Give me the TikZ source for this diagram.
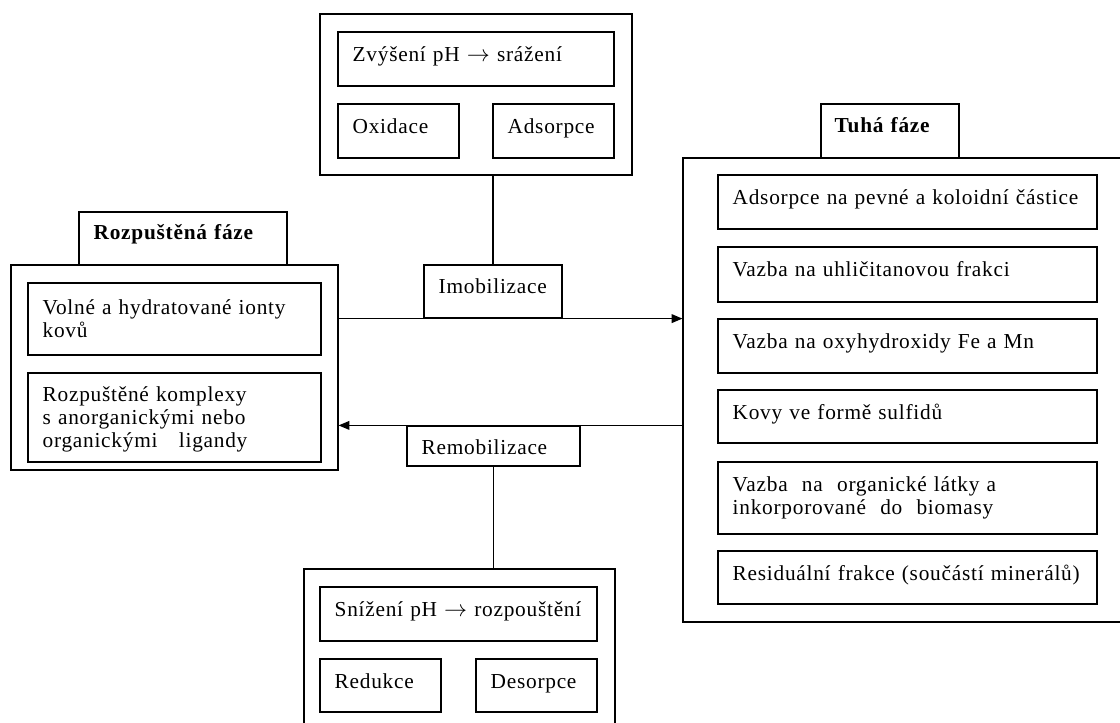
\documentclass[tikz,border=0pt]{standalone}
\usepackage{fontspec}
\setmainfont{Liberation Serif}[LetterSpace=3.5]
\usetikzlibrary{arrows.meta, fit}

\begin{document}
\begin{tikzpicture}[x=0.75pt, y=-0.75pt,
    box/.style={draw, line width=0.9pt, inner sep=0pt},
    txt/.style={anchor=base west, inner sep=0pt, align=left, text width=320pt, font=\fontsize{16}{17.25}\selectfont},
    head/.style={txt, font=\fontsize{16}{17.25}\selectfont\bfseries},
    link/.style={line width=0.9pt},
    pipe/.style={line width=0.9pt, -{Triangle[length=8pt, width=6.5pt]}}]
  \clip (0,0) rectangle (1120,722);

  \node[box, fit={(320,14) (632,175)}] (up) {};
  \node[box, fit={(338,32) (614,86)}] (upph) {};
  \node[box, fit={(338,104) (459,158)}] (oxid) {};
  \node[box, fit={(493,104) (614,158)}] (adso) {};
  \node[txt] (upphtxt) at ([shift={(15,30)}]upph.north west) {Zvýšení pH $\rightarrow$ srážení};
  \node[txt] (oxidtxt) at ([shift={(15,30)}]oxid.north west) {Oxidace};
  \node[txt] (adsotxt) at ([shift={(15,30)}]adso.north west) {Adsorpce};

  \node[box, fit={(11,265) (338,470)}] (rozp) {};
  \node[box, fill=white, fit={(79,212) (287,265)}] (rozphead) {};
  \node[head] (rozpheadtxt) at ([shift={(15,28)}]rozphead.north west) {Rozpuštěná fáze};
  \node[box, fit={(28,283) (321,355)}] (ionty) {};
  \node[box, fit={(28,373) (321,462)}] (kompl) {};
  \node[txt] (iontytxt) at ([shift={(15,32)}]ionty.north west) {Volné a hydratované ionty\\kovů};
  \node[txt] (kompltxt) at ([shift={(15,29)}]kompl.north west) {Rozpuštěné komplexy\\s anorganickými nebo\\organickými \ \ ligandy};

  \node[box, fit={(683,158) (1125,622)}] (tuha) {};
  \node[box, fill=white, fit={(821,104) (959,158)}] (tuhahead) {};
  \node[head] (tuhaheadtxt) at ([shift={(14,29)}]tuhahead.north west) {Tuhá fáze};
  \node[box, fit={(718,175) (1097,229)}] (f1) {};
  \node[box, fit={(718,247) (1097,302)}] (f2) {};
  \node[box, fit={(718,319) (1097,373)}] (f3) {};
  \node[box, fit={(718,390) (1097,443)}] (f4) {};
  \node[box, fit={(718,462) (1097,534)}] (f5) {};
  \node[box, fit={(718,551) (1097,604)}] (f6) {};
  \node[txt] (f1txt) at ([shift={(15,30)}]f1.north west) {Adsorpce na pevné a koloidní částice};
  \node[txt] (f2txt) at ([shift={(15,30)}]f2.north west) {Vazba na uhličitanovou frakci};
  \node[txt] (f3txt) at ([shift={(15,30)}]f3.north west) {Vazba na oxyhydroxidy Fe a Mn};
  \node[txt] (f4txt) at ([shift={(15,30)}]f4.north west) {Kovy ve formě sulfidů};
  \node[txt] (f5txt) at ([shift={(15,30)}]f5.north west) {Vazba \ na \ organické látky a\\inkorporované \ do \ biomasy};
  \node[txt] (f6txt) at ([shift={(15,30)}]f6.north west) {Residuální frakce (součástí minerálů)};

  \node[box, fill=white, fit={(424,265) (562,318)}] (imob) {};
  \node[txt] (imobtxt) at ([shift={(15,29)}]imob.north west) {Imobilizace};
  \node[box, fill=white, fit={(407,426) (580,466)}] (remob) {};
  \node[txt] (remobtxt) at ([shift={(15,29)}]remob.north west) {Remobilizace};

  \node[box, fit={(304,569) (615,740)}] (down) {};
  \node[box, fit={(320,587) (597,641)}] (downph) {};
  \node[box, fit={(320,659) (441,712)}] (redu) {};
  \node[box, fit={(476,659) (597,712)}] (deso) {};
  \node[txt] (downphtxt) at ([shift={(15,30)}]downph.north west) {Snížení pH $\rightarrow$ rozpouštění};
  \node[txt] (redutxt) at ([shift={(15,30)}]redu.north west) {Redukce};
  \node[txt] (desotxt) at ([shift={(15,30)}]deso.north west) {Desorpce};

  \draw[link] (imob.north) -- (imob.north |- up.south);
  \draw[pipe] (rozp.east |- imob.south) -- (tuha.west |- imob.south);
  \draw[pipe] (tuha.west |- remob.north) -- (rozp.east |- remob.north);
  \draw[link] (remob.south) -- (remob.south |- down.north);
\end{tikzpicture}
\end{document}
